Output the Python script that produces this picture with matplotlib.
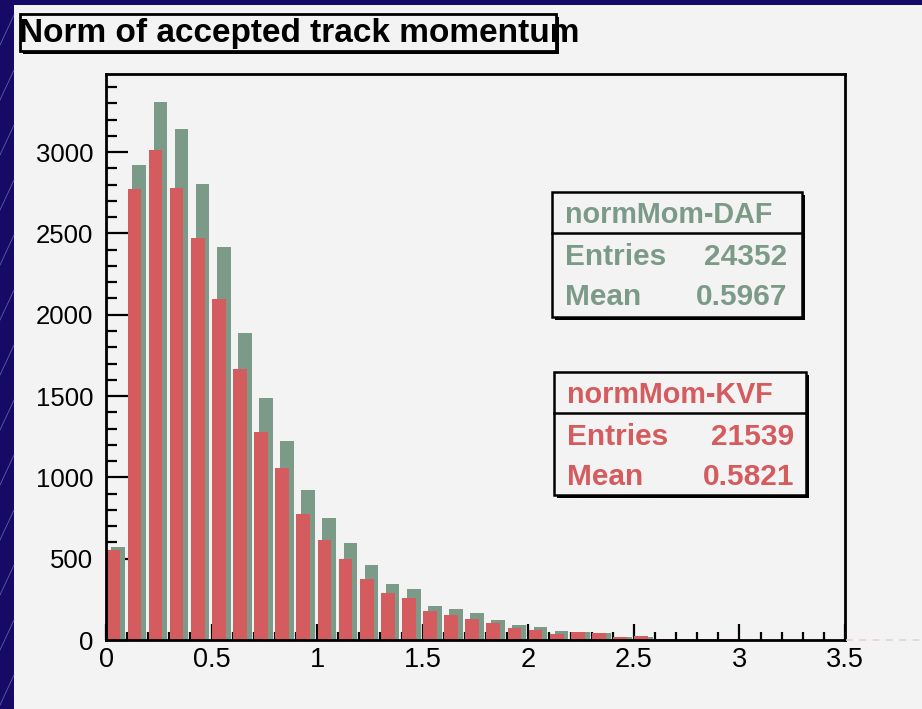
import numpy as np
import matplotlib
matplotlib.use("Agg")
import matplotlib.pyplot as plt
from matplotlib.patches import Rectangle
from matplotlib.lines import Line2D
from matplotlib.ticker import MultipleLocator

# histogram bins: 35 bins of width 0.1 from 0 to 3.5
bin_width = 0.1
bin_lefts = np.round(np.arange(0, 3.5, bin_width), 2)

daf_counts = [570, 2919, 3307, 3141, 2803, 2416, 1887, 1487, 1223, 922,
              750, 595, 461, 344, 313, 209, 190, 166, 123, 92,
              80, 55, 50, 45, 20, 18, 8, 6, 5, 4, 2, 1, 1, 0, 0]
kvf_counts = [555, 2772, 3012, 2778, 2471, 2096, 1666, 1280, 1057, 774,
              615, 498, 375, 289, 260, 178, 154, 129, 104, 74,
              61, 37, 48, 43, 18, 25, 6, 5, 5, 4, 2, 1, 1, 0, 0]

daf_stats = {"name": "normMom-DAF", "Entries": "24352", "Mean": "0.5967"}
kvf_stats = {"name": "normMom-KVF", "Entries": "21539", "Mean": "0.5821"}

title = "Norm of accepted track momentum"

green = "#7c9a88"
red = "#d45b5e"
canvas = "#f3f3f3"
navy = "#150a66"

W, H = 922, 709


def fx(x):
    return x / W


def fy(y):
    return 1 - y / H


plt.rcParams['font.family'] = ['Liberation Sans', 'DejaVu Sans']

fig = plt.figure(figsize=(9.22, 7.09), dpi=100)
fig.patch.set_facecolor(navy)

# slide decoration on the left strip
for y0 in range(-40, 720, 55):
    fig.add_artist(Line2D([fx(0), fx(14)], [fy(y0 + 30), fy(y0)],
                          color="#7f7fc0", lw=0.6, alpha=0.7))

# light canvas
fig.add_artist(Rectangle((fx(14), 0), 1, fy(5), transform=fig.transFigure,
                         facecolor=canvas, edgecolor="none", zorder=0))

ax = fig.add_axes([fx(106), fy(640), fx(845) - fx(106), fy(74) - fy(640)])
ax.set_facecolor(canvas)

ax.bar(bin_lefts + 0.25 * bin_width, daf_counts, width=0.65 * bin_width,
       align="edge", color=green, zorder=2)
ax.bar(bin_lefts + 0.02 * bin_width, kvf_counts, width=0.65 * bin_width,
       align="edge", color=red, zorder=3)

ax.set_xlim(0, 3.5)
ax.set_ylim(0, 3480)
ax.xaxis.set_major_locator(MultipleLocator(0.5))
ax.xaxis.set_minor_locator(MultipleLocator(0.1))
ax.yaxis.set_major_locator(MultipleLocator(500))
ax.yaxis.set_minor_locator(MultipleLocator(100))
ax.xaxis.set_major_formatter(matplotlib.ticker.FuncFormatter(lambda v, p: f"{v:g}"))

ax.tick_params(axis="x", which="major", direction="in", length=11.5, width=1.6,
               labelsize=19.5, pad=5)
ax.tick_params(axis="x", which="minor", direction="in", length=5.5, width=1.6)
ax.tick_params(axis="y", which="major", direction="in", length=16, width=1.6,
               labelsize=18.5, pad=9)
ax.tick_params(axis="y", which="minor", direction="in", length=8, width=1.6)
for sp in ax.spines.values():
    sp.set_linewidth(2)
    sp.set_zorder(5)

# dashed remnant right of the frame
fig.add_artist(Line2D([fx(846), fx(922)], [fy(640), fy(640)], color="#ebcfcf",
                      lw=1.2, ls=(0, (4, 4))))


def framed_box(x0, y0, x1, y1, lw=2, shadow=3):
    fig.add_artist(Rectangle((fx(x0 + shadow), fy(y1 + shadow)),
                             fx(x1 - x0), fy(y0) - fy(y1),
                             transform=fig.transFigure, facecolor="black",
                             edgecolor="none", zorder=6))
    fig.add_artist(Rectangle((fx(x0), fy(y1)), fx(x1 - x0), fy(y0) - fy(y1),
                             transform=fig.transFigure, facecolor=canvas,
                             edgecolor="black", lw=lw, zorder=7))


# title box
framed_box(20, 14, 556, 51)
fig.text(fx(19), fy(42), title, fontsize=24, fontweight="bold",
         ha="left", va="baseline", zorder=8)


def stats_box(stats, color, x0, y0, x1, y1, ydiv, xr):
    framed_box(x0, y0, x1, y1, lw=1.8)
    fig.add_artist(Line2D([fx(x0), fx(x1)], [fy(ydiv), fy(ydiv)],
                          color="black", lw=1.8, zorder=8))
    xl = x0 + 13
    fig.text(fx(xl), fy(ydiv - 10), stats["name"], color=color, fontsize=20.7,
             fontweight="bold", ha="left", va="baseline", zorder=9)
    fig.text(fx(xl), fy(ydiv + 32), "Entries", color=color, fontsize=21.5,
             fontweight="bold", ha="left", va="baseline", zorder=9)
    fig.text(fx(xr), fy(ydiv + 32), stats["Entries"], color=color,
             fontsize=21.5, fontweight="bold", ha="right", va="baseline",
             zorder=9)
    fig.text(fx(xl), fy(ydiv + 72), "Mean", color=color, fontsize=21.5,
             fontweight="bold", ha="left", va="baseline", zorder=9)
    fig.text(fx(xr), fy(ydiv + 72), stats["Mean"], color=color, fontsize=21.5,
             fontweight="bold", ha="right", va="baseline", zorder=9)


stats_box(daf_stats, green, 552, 192, 802, 317, 233, 787)
stats_box(kvf_stats, red, 554, 372, 806, 495, 413, 794)

fig.savefig("out.png", dpi=100, facecolor=fig.get_facecolor())
